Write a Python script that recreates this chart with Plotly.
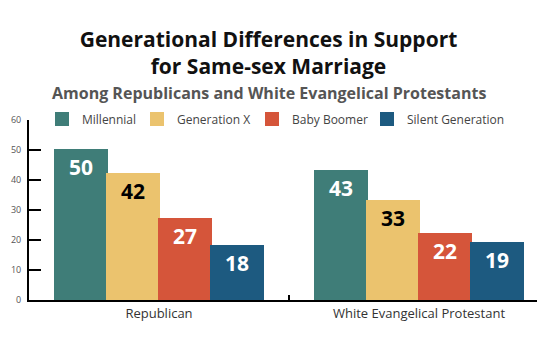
import plotly.graph_objects as go

# Survey groups and generational support for same-sex marriage (%)
groups = ["Republican", "White Evangelical Protestant"]
generations = ["Millennial", "Generation X", "Baby Boomer", "Silent Generation"]
millennial = [50, 43]
gen_x = [42, 33]
baby_boomer = [27, 22]
silent_gen = [18, 19]
y_ticks = [0, 10, 20, 30, 40, 50, 60]

series = [millennial, gen_x, baby_boomer, silent_gen]
colors = ["#3F7D78", "#EBC36E", "#D5553A", "#1D5A80"]
label_colors = ["white", "black", "white", "white"]
legend_ids = ["legend", "legend2", "legend3", "legend4"]
legend_x_px = [42, 137, 252, 367]

FONT = "'Open Sans', sans-serif"
W, H = 537, 340
ML, MR, MT, MB = 29, 0, 120, 40

fig = go.Figure()
for name, vals, col, tcol, lid in zip(generations, series, colors, label_colors, legend_ids):
    fig.add_trace(go.Bar(
        name=name,
        x=groups,
        y=vals,
        marker=dict(color=col, line=dict(color=col, width=2)),
        text=[str(v) for v in vals],
        textposition="inside",
        insidetextanchor="end",
        textangle=0,
        textfont=dict(family=FONT, size=21, color=tcol, weight="bold"),
        legend=lid,
        showlegend=True,
    ))

legend_layout = {}
for lid, px in zip(legend_ids, legend_x_px):
    legend_layout[lid] = dict(
        x=(px - ML) / (W - ML - MR),
        xanchor="left",
        y=(H - MB - 119) / (H - MT - MB),
        yanchor="middle",
        orientation="h",
        bgcolor="rgba(0,0,0,0)",
        font=dict(family=FONT, size=12, color="#444"),
        itemwidth=30,
    )

fig.update_layout(
    width=W,
    height=H,
    margin=dict(l=ML, r=MR, t=MT, b=MB, pad=0),
    paper_bgcolor="white",
    plot_bgcolor="white",
    barmode="group",
    bargap=0.2,
    bargroupgap=0,
    uniformtext=dict(minsize=10, mode="show"),
    title=dict(
        text="Generational Differences in Support<br>for Same-sex Marriage",
        x=0.5,
        xanchor="center",
        xref="container",
        yref="container",
        y=1 - 47 / H,
        yanchor="top",
        font=dict(family=FONT, size=21, color="#111", weight="bold"),
    ),
    annotations=[dict(
        text="Among Republicans and White Evangelical Protestants",
        xref="paper", yref="paper",
        x=(268.5 - ML) / (W - ML - MR), y=(H - MB - 93) / (H - MT - MB),
        xanchor="center", yanchor="middle",
        showarrow=False,
        font=dict(family=FONT, size=16, color="#555", weight="bold"),
    )],
    xaxis=dict(
        type="category",
        range=[-0.5, -0.5 + (W - ML - MR) / 260],
        showline=True, linecolor="black", linewidth=2,
        ticks="inside", tickson="boundaries", ticklen=5, tickwidth=1.5, tickcolor="black",
        tickfont=dict(family=FONT, size=13, color="#333"),
        showgrid=False, zeroline=False,
    ),
    yaxis=dict(
        range=[0, 60],
        tickvals=y_ticks,
        showline=True, linecolor="black", linewidth=2,
        ticks="inside", ticklen=12, tickwidth=2, tickcolor="black",
        tickfont=dict(family=FONT, size=9, color="#555"),
        ticklabelstandoff=4,
        showgrid=False, zeroline=False,
    ),
    **legend_layout,
)

fig.write_html("out.html")
